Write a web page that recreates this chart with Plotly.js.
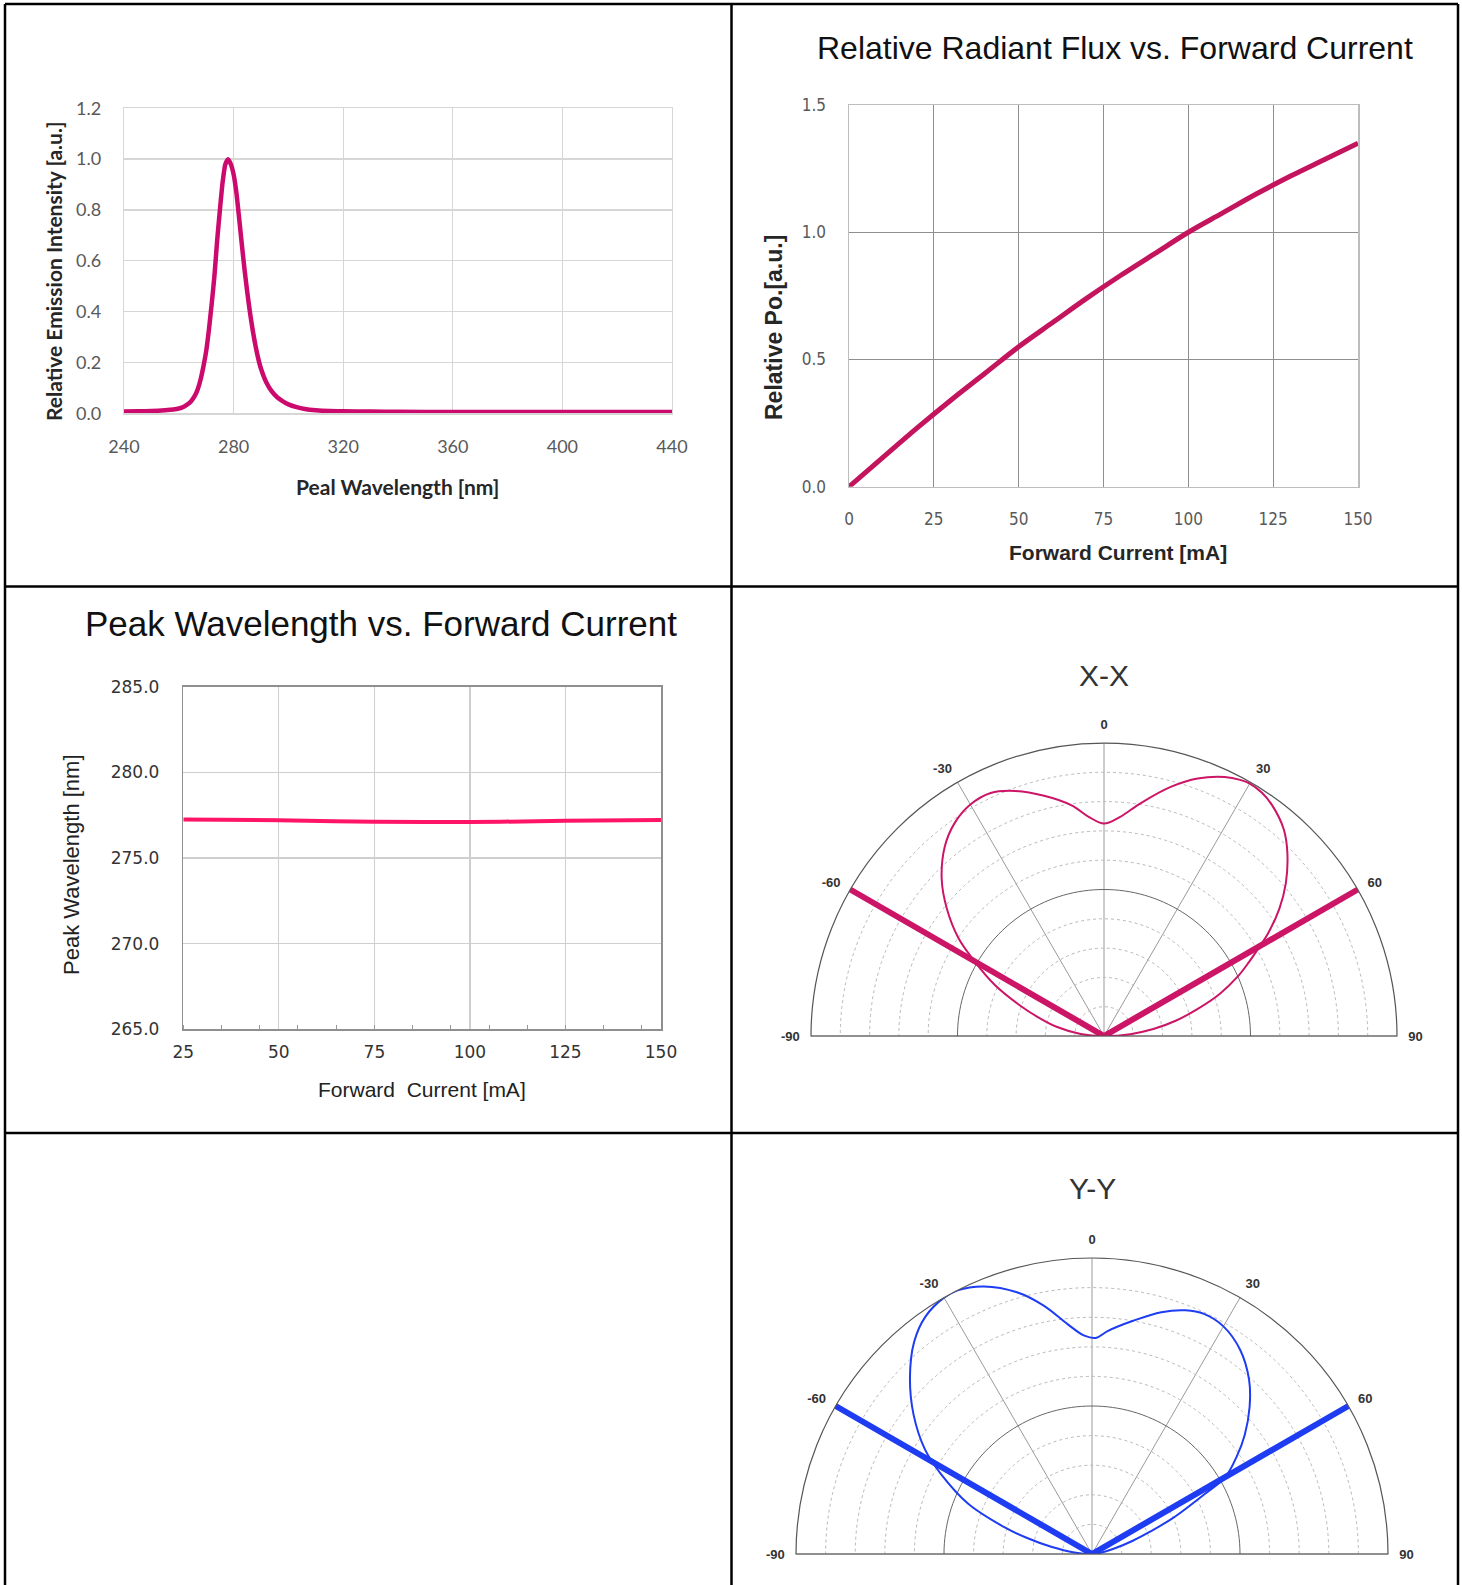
<!DOCTYPE html>
<html>
<head>
<meta charset="utf-8">
<script src="https://cdn.plot.ly/plotly-3.0.1.min.js"></script>
<style>
  html, body { margin: 0; padding: 0; background: #ffffff; }
  #chart { width: 1462px; height: 1585px; }
</style>
</head>
<body>
<div id="chart"></div>
<script>
// ---------------- DATA ----------------
// Chart 1: emission spectrum
const wavelength = [240,245,250,255,258,260,262,264,265,266,267,268,269,270,271,272,273,274,275,276,277,278,279,280,281,282,283,284,285,286,287,288,289,290,292,294,296,298,300,303,306,310,315,320,330,340,360,380,400,420,440];
const intensity  = [0.007,0.008,0.009,0.012,0.015,0.019,0.027,0.042,0.055,0.072,0.098,0.135,0.185,0.245,0.33,0.43,0.54,0.68,0.80,0.91,0.98,1.00,0.98,0.94,0.87,0.77,0.665,0.565,0.475,0.395,0.325,0.265,0.215,0.175,0.12,0.085,0.062,0.047,0.035,0.024,0.017,0.012,0.009,0.008,0.007,0.006,0.005,0.005,0.005,0.005,0.005];
const specXTicks = [240,280,320,360,400,440];

// Chart 2: relative radiant flux vs forward current
const fluxCurrent = [0,10,20,30,40,50,60,70,80,90,100,110,120,130,140,150];
const relFlux     = [0,0.115,0.23,0.34,0.445,0.55,0.645,0.74,0.83,0.915,1.0,1.075,1.15,1.22,1.285,1.35];

// Chart 3: peak wavelength vs forward current
const pwCurrent = [25,50,75,100,125,150];
const peakWl    = [277.25,277.2,277.12,277.1,277.17,277.22];

// Polar X-X
const xxTheta = [-90,-85,-79,-74,-70,-65,-60,-56,-51,-46,-40,-35,-30,-25,-20,-14,-8,-4,0,4,9,15,20,25,28,30,33,36,41,45,50,54,58,60,63,66,70,74,78,82,86,90];
const xxR     = [0,0.08,0.165,0.235,0.305,0.41,0.51,0.60,0.69,0.77,0.845,0.888,0.912,0.915,0.89,0.845,0.795,0.75,0.725,0.748,0.805,0.88,0.935,0.975,0.99,0.995,0.99,0.975,0.935,0.885,0.81,0.74,0.66,0.615,0.555,0.50,0.42,0.33,0.25,0.17,0.09,0];

// Polar Y-Y
const yyTheta = [-90,-85,-80,-76,-73,-68,-62,-58,-52,-46,-40,-35,-30,-27,-22,-16,-11,-6,-2,1,4,10,16,21,25,30,36,42,47,52,56,60,62,66,69,72,76,82,90];
const yyR     = [0,0.06,0.14,0.23,0.31,0.45,0.58,0.665,0.765,0.855,0.935,0.98,1.0,1.0,0.975,0.92,0.855,0.78,0.738,0.73,0.755,0.80,0.85,0.882,0.895,0.888,0.852,0.793,0.728,0.655,0.59,0.52,0.43,0.30,0.21,0.145,0.08,0.03,0];

// Beam-angle lines (±60°) and angular tick labels
const beamTheta = [-60, 0, 60];
const beamR     = [1, 0, 1];
const angTicks  = [-90,-60,-30,0,30,60,90];
const angLabels = ['-90','-60','-30','0','30','60','90'];
const radialGrid = [0.1,0.2,0.3,0.4,0.6,0.7,0.8,0.9];

// ---------------- LAYOUT HELPERS ----------------
const W = 1462, H = 1585;
const px = v => v / W;
const py = v => 1 - v / H;

// half circle at r = 0.5 (solid reference ring)
const ringTheta = [], ringR = [];
for (let t = -90; t <= 90; t += 2) { ringTheta.push(t); ringR.push(0.5); }

const magenta1 = '#cc0a6e';
const magenta2 = '#c4145e';
const pinkRed  = '#ff1466';
const xxColor  = '#cc1566';
const yyColor  = '#1e3cf2';

const traces = [
  { type:'scatter', mode:'lines', x: wavelength, y: intensity, xaxis:'x', yaxis:'y',
    line:{ color: magenta1, width: 4.5, shape:'spline', smoothing:0.6 }, cliponaxis:false },
  { type:'scatter', mode:'lines', x: fluxCurrent, y: relFlux, xaxis:'x2', yaxis:'y2',
    line:{ color: magenta2, width: 5, shape:'spline' }, cliponaxis:false },
  { type:'scatter', mode:'lines', x: pwCurrent, y: peakWl, xaxis:'x3', yaxis:'y3',
    line:{ color: pinkRed, width: 4, shape:'spline' }, cliponaxis:false },

  // X-X polar
  { type:'scatterpolar', mode:'lines', subplot:'polar', r: ringR, theta: ringTheta,
    line:{ color:'#666', width:1 }, hoverinfo:'skip' },
  { type:'scatterpolar', mode:'lines', subplot:'polar', r: beamR, theta: beamTheta,
    line:{ color: xxColor, width:6 } },
  { type:'scatterpolar', mode:'lines', subplot:'polar', r: xxR, theta: xxTheta,
    line:{ color: xxColor, width:2, shape:'spline' } },

  // Y-Y polar
  { type:'scatterpolar', mode:'lines', subplot:'polar2', r: ringR, theta: ringTheta,
    line:{ color:'#666', width:1 }, hoverinfo:'skip' },
  { type:'scatterpolar', mode:'lines', subplot:'polar2', r: beamR, theta: beamTheta,
    line:{ color: yyColor, width:6 } },
  { type:'scatterpolar', mode:'lines', subplot:'polar2', r: yyR, theta: yyTheta,
    line:{ color: yyColor, width:2, shape:'spline' } }
];

const tickTransparent = 'rgba(0,0,0,0)';

function polarCfg(domX, domY) {
  return {
    domain:{ x: domX, y: domY },
    sector:[0,180],
    bgcolor:'#ffffff',
    angularaxis:{
      rotation:90, direction:'clockwise', thetaunit:'degrees',
      tickmode:'array', tickvals: angTicks, ticktext: angLabels,
      showline:true, linecolor:'#555', linewidth:1.2,
      showgrid:true, gridcolor:'#9a9a9a', gridwidth:1,
      ticks:'outside', ticklen:8, tickcolor: tickTransparent,
      tickfont:{ family:'Arial, Liberation Sans', size:13, color:'#333', weight:'bold' }
    },
    radialaxis:{
      range:[0,1], tickmode:'array', tickvals: radialGrid,
      showticklabels:false, ticks:'', showline:false,
      showgrid:true, gridcolor:'#b8b8b8', gridwidth:1, griddash:'dot'
    }
  };
}

const font1 = 'Lato, Open Sans, sans-serif';
const fontNarrow = 'Liberation Sans Narrow, DejaVu Sans Condensed, Arial Narrow, Liberation Sans, Arial, sans-serif';
const fontArial = 'Liberation Sans, Arial, sans-serif';
const fontDejavu = 'DejaVu Sans, Verdana, sans-serif';

const layout = {
  width: W, height: H,
  margin:{ l:0, r:0, t:0, b:0 },
  paper_bgcolor:'#ffffff', plot_bgcolor:'#ffffff',
  showlegend:false,

  // Chart 1
  xaxis:{ domain:[px(124), px(672)], anchor:'y', range:[240,440], tickmode:'array', tickvals: specXTicks,
    showgrid:true, gridcolor:'#d6d6d6', gridwidth:1.3, zeroline:false,
    showline:true, mirror:true, linecolor:'#d6d6d6', linewidth:1.3,
    ticks:'outside', ticklen:17, tickcolor: tickTransparent,
    tickfont:{ family: font1, size:18, color:'#595959' }, fixedrange:true },
  yaxis:{ domain:[py(413.3), py(108.3)], anchor:'x', range:[0,1.2], dtick:0.2, tick0:0, tickformat:'.1f',
    showgrid:true, gridcolor:'#d6d6d6', gridwidth:1.3, zeroline:false,
    showline:true, mirror:true, linecolor:'#d6d6d6', linewidth:1.3,
    ticks:'outside', ticklen:18, tickcolor: tickTransparent,
    tickfont:{ family: font1, size:18, color:'#595959' }, fixedrange:true },

  // Chart 2
  xaxis2:{ domain:[px(849), px(1358)], anchor:'y2', range:[0,150], dtick:25, tick0:0,
    showgrid:true, gridcolor:'#8f8f8f', gridwidth:1.3, zeroline:false,
    showline:true, mirror:true, linecolor:'#bdbdbd', linewidth:1.5,
    ticks:'outside', ticklen:16, tickcolor: tickTransparent,
    tickfont:{ family: fontNarrow, size:17, color:'#595959' }, fixedrange:true },
  yaxis2:{ domain:[py(486.7), py(105)], anchor:'x2', range:[0,1.5], dtick:0.5, tick0:0, tickformat:'.1f',
    showgrid:true, gridcolor:'#8f8f8f', gridwidth:1.3, zeroline:false,
    showline:true, mirror:true, linecolor:'#bdbdbd', linewidth:1.5,
    ticks:'outside', ticklen:18, tickcolor: tickTransparent,
    tickfont:{ family: fontNarrow, size:17, color:'#595959' }, fixedrange:true },

  // Chart 3
  xaxis3:{ domain:[px(183.3), px(661)], anchor:'y3', range:[25,150], tickmode:'linear', tick0:25, dtick:25,
    showgrid:true, gridcolor:'#cfcfcf', gridwidth:1.2, zeroline:false,
    showline:true, mirror:true, linecolor:'#8f8f8f', linewidth:1.5,
    ticks:'outside', ticklen:7, tickcolor: tickTransparent,
    minor:{ ticks:'inside', ticklen:4, tickcolor:'#999', tick0:25, dtick:10, showgrid:false },
    tickfont:{ family: fontDejavu, size:17, color:'#333' }, fixedrange:true },
  yaxis3:{ domain:[py(1029.3), py(686.7)], anchor:'x3', range:[265,285], dtick:5, tick0:265, tickformat:'.1f',
    showgrid:true, gridcolor:'#cfcfcf', gridwidth:1.2, zeroline:false,
    showline:true, mirror:true, linecolor:'#8f8f8f', linewidth:1.5,
    ticks:'outside', ticklen:19, tickcolor: tickTransparent,
    tickfont:{ family: fontDejavu, size:17, color:'#333' }, fixedrange:true },

  polar:  polarCfg([px(811), px(1397)], [py(1036), py(743)]),
  polar2: polarCfg([px(796), px(1388)], [py(1554), py(1258)]),

  shapes: [
    { type:'line', xref:'paper', yref:'paper', x0:px(5),    x1:px(5),    y0:py(4), y1:py(1585), line:{ color:'#000', width:2.5 } },
    { type:'line', xref:'paper', yref:'paper', x0:px(731.5),x1:px(731.5),y0:py(4), y1:py(1585), line:{ color:'#000', width:2.5 } },
    { type:'line', xref:'paper', yref:'paper', x0:px(1458), x1:px(1458), y0:py(4), y1:py(1585), line:{ color:'#000', width:2.5 } },
    { type:'line', xref:'paper', yref:'paper', x0:px(5), x1:px(1458), y0:py(4),     y1:py(4),     line:{ color:'#000', width:2.5 } },
    { type:'line', xref:'paper', yref:'paper', x0:px(5), x1:px(1458), y0:py(586.5), y1:py(586.5), line:{ color:'#000', width:2.5 } },
    { type:'line', xref:'paper', yref:'paper', x0:px(5), x1:px(1458), y0:py(1133),  y1:py(1133),  line:{ color:'#000', width:2.5 } }
  ],

  annotations: [
    // Chart 1
    { text:'Relative Emission Intensity [a.u.]', xref:'paper', yref:'paper', x:px(54), y:py(271), textangle:-90,
      showarrow:false, xanchor:'center', yanchor:'middle', font:{ family: font1, size:21, color:'#262626', weight:'bold' } },
    { text:'Peal Wavelength [nm]', xref:'paper', yref:'paper', x:px(397), y:py(486),
      showarrow:false, xanchor:'center', yanchor:'middle', font:{ family: font1, size:21, color:'#262626', weight:'bold' } },
    // Chart 2
    { text:'Relative Radiant Flux vs. Forward Current', xref:'paper', yref:'paper', x:px(1115), y:py(47.5),
      showarrow:false, xanchor:'center', yanchor:'middle', font:{ family: fontArial, size:32, color:'#111' } },
    { text:'Relative Po.[a.u.]', xref:'paper', yref:'paper', x:px(774), y:py(328), textangle:-90,
      showarrow:false, xanchor:'center', yanchor:'middle', font:{ family: fontArial, size:23, color:'#262626', weight:'bold' } },
    { text:'Forward Current [mA]', xref:'paper', yref:'paper', x:px(1118), y:py(553),
      showarrow:false, xanchor:'center', yanchor:'middle', font:{ family: fontArial, size:21, color:'#262626', weight:'bold' } },
    // Chart 3
    { text:'Peak Wavelength vs. Forward Current', xref:'paper', yref:'paper', x:px(381), y:py(624),
      showarrow:false, xanchor:'center', yanchor:'middle', font:{ family: fontArial, size:35, color:'#111' } },
    { text:'Peak Wavelength [nm]', xref:'paper', yref:'paper', x:px(71), y:py(865), textangle:-90,
      showarrow:false, xanchor:'center', yanchor:'middle', font:{ family: fontArial, size:22, color:'#222' } },
    { text:'Forward  Current [mA]', xref:'paper', yref:'paper', x:px(422), y:py(1089),
      showarrow:false, xanchor:'center', yanchor:'middle', font:{ family: fontArial, size:21, color:'#222' } },
    // Polar titles
    { text:'X-X', xref:'paper', yref:'paper', x:px(1104), y:py(675),
      showarrow:false, xanchor:'center', yanchor:'middle', font:{ family: fontArial, size:30, color:'#333' } },
    { text:'Y-Y', xref:'paper', yref:'paper', x:px(1092), y:py(1188),
      showarrow:false, xanchor:'center', yanchor:'middle', font:{ family: fontArial, size:30, color:'#333' } }
  ]
};

Plotly.newPlot('chart', traces, layout, { staticPlot:true, displayModeBar:false });
</script>
</body>
</html>
